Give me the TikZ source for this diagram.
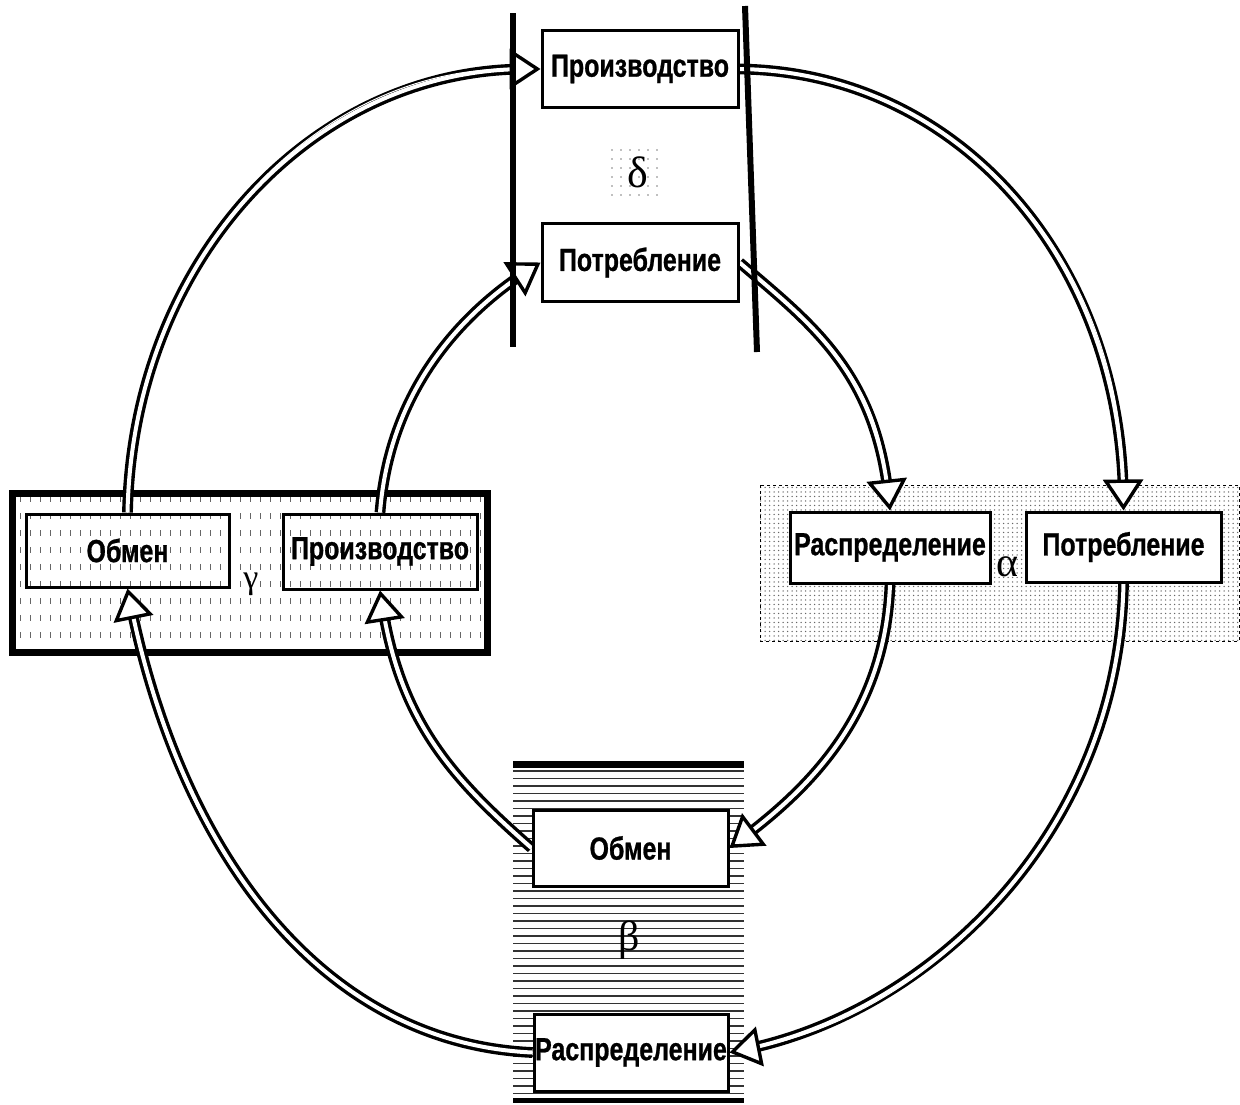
\documentclass[tikz,border=0pt]{standalone}
\usepackage{fontspec}
\usetikzlibrary{arrows.meta,patterns.meta}
\newfontfamily\lab[FakeStretch=0.78,FakeBold=0.8]{Liberation Sans}
\newfontfamily\grk{Liberation Serif}
\pgfdeclarelayer{bg}
\pgfdeclarelayer{mid}
\pgfdeclarelayer{top}
\pgfsetlayers{bg,mid,main,top}
\tikzset{
  box/.style={draw, line width=3pt, fill=white, inner sep=0pt,
    font=\lab\bfseries\fontsize{32}{34}\selectfont},
  gbox/.style={box, fill=none},
  dbl/.style={draw=black, line width=3.4pt, double=white, double distance=4pt, shorten >=14pt},
  tipw/.style={draw=white, line width=1pt,
    -{Triangle[length=31pt,width=40pt,line width=3.4pt,color=black,fill=white]}},
  greek/.style={inner sep=0pt, font=\grk\fontsize{#1}{#1}\selectfont},
  bar/.style={line width=6pt, line cap=butt}
}
\newcommand\cyc[4]{%
  \begin{pgfonlayer}{mid}
  \draw[dbl] (#1) .. controls #2 and #3 .. (#4);
  \draw[tipw] (#1) .. controls #2 and #3 .. (#4);
  \end{pgfonlayer}}
\begin{document}
\begin{tikzpicture}[x=1pt,y=1pt]
\useasboundingbox (0,0) rectangle (1240,-1104);

% ---- background areas
\begin{pgfonlayer}{bg}
  \fill[white] (0,0) rectangle (1240,-1104);
  % alpha area
  \draw[dashed, line width=0.8pt, pattern={Dots[distance=4.5pt,radius=0.75pt]}, pattern color=black!60]
    (760,-485) rectangle (1239,-641);
  % delta patch
  \fill[pattern={Dots[distance=9pt,radius=0.8pt]}, pattern color=black!50]
    (610,-145) rectangle (662,-198);
  % beta area
  \foreach \y in {771,778.5,...,1095} \draw[line width=1.6pt, black!80] (513,-\y) -- (744,-\y);
  \draw[line width=7pt] (513,-764) -- (744,-764);
  \draw[line width=5pt] (513,-1100) -- (744,-1100);
  % gamma area
  \begin{scope}
    \clip (12,-493) rectangle (487,-652);
    \foreach \x in {20,30,...,480}
      \draw[black!60, line width=0.8pt, dash pattern=on 6pt off 11pt] (\x,-496) -- (\x,-652);
  \end{scope}
  \draw[line width=7pt] (12.5,-493) rectangle (487,-652);
\end{pgfonlayer}

% ---- boxes
\node[box, minimum width=196pt, minimum height=77pt] (tP) at (640,-69) {Производство};
\node[box, minimum width=196pt, minimum height=78pt] (tC) at (640,-262.5) {Потребление};
\node[box, minimum width=200pt, minimum height=71pt] (aR) at (890,-547.5) {Распределение};
\node[box, minimum width=195pt, minimum height=70pt] (aC) at (1123.5,-547) {Потребление};
\node[box, minimum width=195pt, minimum height=76pt] (bO) at (630.5,-848) {Обмен};
\node[box, minimum width=194pt, minimum height=77pt] (bR) at (631,-1052.5) {Распределение};
\node[gbox, minimum width=203pt, minimum height=73pt] (gO) at (127.5,-550.5) {Обмен};
\node[gbox, minimum width=194pt, minimum height=75pt] (gP) at (380,-551.5) {Производство};

% ---- greek labels
\node[greek=44] (delta) at (638,-172) {δ};
\node[greek=42] (alpha) at (1007,-567) {α};
\node[greek=42] (beta) at (629,-940) {β};
\node[greek=34] (gamma) at (251,-584) {γ};

% ---- outer cycle
\cyc{gO.north}{+(5,250)}{+(-230,0)}{tP.west}
\cyc{tP.east}{+(220,-3)}{+(-3,250)}{aC.north}
\cyc{aC.south}{+(-5,-250)}{+(200,40)}{bR.east}
\cyc{bR.west}{+(-220,10)}{+(50,-250)}{gO.south}
% ---- inner cycle
\cyc{tC.east}{+(70,-60)}{+(-15,140)}{aR.north}
\cyc{aR.south}{+(-5,-130)}{+(80,60)}{bO.east}
\cyc{bO.west}{+(-80,70)}{+(20,-130)}{gP.south}
\cyc{gP.north}{+(10,130)}{+(-70,-45)}{tC.west}

% ---- delta bars
\begin{pgfonlayer}{top}
  \draw[bar] (513,-13) -- (513,-347);
  \draw[bar] (745,-6) -- (757,-352);
\end{pgfonlayer}
\end{tikzpicture}
\end{document}
